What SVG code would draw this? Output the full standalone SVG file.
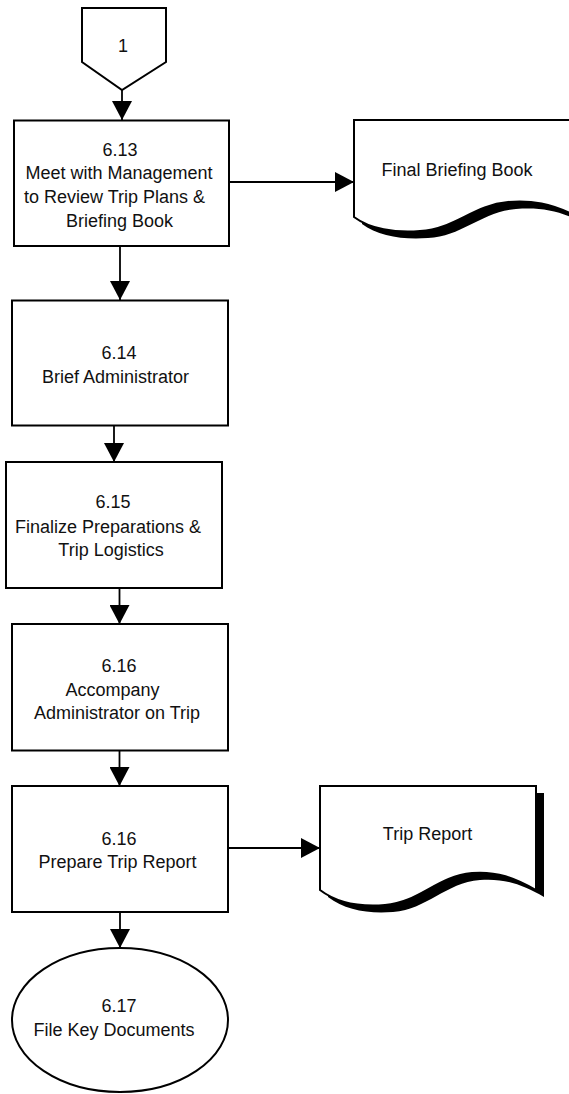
<svg xmlns="http://www.w3.org/2000/svg" width="569" height="1094" viewBox="0 0 569 1094">
<defs>
<style>
.shape{fill:#fff;stroke:#000;stroke-width:2}
.shadow{fill:#000;stroke:none}
.conn{fill:none;stroke:#000;stroke-width:1.8}
text{font-family:"Liberation Sans",Arial,sans-serif;font-size:18px;fill:#111;text-anchor:middle}
</style>
<marker id="arr" markerUnits="userSpaceOnUse" markerWidth="20" markerHeight="20" refX="19" refY="10" orient="auto">
<path d="M0,0 L19,10 L0,20 Z" fill="#000"/>
</marker>
</defs>
<rect width="569" height="1094" fill="#fff"/>
<g id="connectors">
<line class="conn" x1="122" y1="90" x2="122" y2="120" marker-end="url(#arr)"/>
<line class="conn" x1="120" y1="246" x2="120" y2="300" marker-end="url(#arr)"/>
<line class="conn" x1="114" y1="426" x2="114" y2="462" marker-end="url(#arr)"/>
<line class="conn" x1="119.5" y1="588" x2="119.5" y2="624" marker-end="url(#arr)"/>
<line class="conn" x1="119.5" y1="751" x2="119.5" y2="786" marker-end="url(#arr)"/>
<line class="conn" x1="120" y1="912" x2="120" y2="948" marker-end="url(#arr)"/>
<line class="conn" x1="229" y1="182" x2="354" y2="182" marker-end="url(#arr)"/>
<line class="conn" x1="228" y1="848" x2="320" y2="848" marker-end="url(#arr)"/>
</g>
<g id="offpage1">
<polygon class="shape" points="82,8 166,8 166,62 122,90 82,62"/>
<text x="123" y="52">1</text>
</g>
<g id="n613">
<rect class="shape" x="14" y="120.5" width="215" height="125.5"/>
<text x="120" y="156">6.13</text>
<text x="119" y="179">Meet with Management</text>
<text x="114.5" y="203">to Review Trip Plans &amp;</text>
<text x="119.5" y="227">Briefing Book</text>
</g>
<g id="doc1">
<path class="shadow" transform="translate(8,7)" d="M354,120 H572 V214 C551,204 533,200 508,202 C473,205 455,229 420,231 C395,233 370,229 354,217 Z"/>
<path class="shape" d="M354,120 H572 V214 C551,204 533,200 508,202 C473,205 455,229 420,231 C395,233 370,229 354,217 Z"/>
<text x="457" y="176">Final Briefing Book</text>
</g>
<g id="n614">
<rect class="shape" x="12" y="300.5" width="216" height="125"/>
<text x="119" y="359">6.14</text>
<text x="115.6" y="383">Brief Administrator</text>
</g>
<g id="n615">
<rect class="shape" x="6" y="462" width="216" height="126"/>
<text x="113" y="508">6.15</text>
<text x="108" y="533">Finalize Preparations &amp;</text>
<text x="111" y="556">Trip Logistics</text>
</g>
<g id="n616a">
<rect class="shape" x="12" y="624" width="216" height="126.5"/>
<text x="119" y="672">6.16</text>
<text x="112.5" y="696">Accompany</text>
<text x="117" y="719">Administrator on Trip</text>
</g>
<g id="n616b">
<rect class="shape" x="12" y="786" width="216" height="126"/>
<text x="119" y="845">6.16</text>
<text x="117.5" y="868">Prepare Trip Report</text>
</g>
<g id="doc2">
<path class="shadow" transform="translate(8,7)" d="M320,786 H536 V890 C515,878 497,871 472,873 C437,876 420,902 385,905 C360,907 337,903 320,890 Z"/>
<path class="shape" d="M320,786 H536 V890 C515,878 497,871 472,873 C437,876 420,902 385,905 C360,907 337,903 320,890 Z"/>
<text x="427.5" y="840">Trip Report</text>
</g>
<g id="n617">
<ellipse class="shape" cx="120" cy="1020" rx="108" ry="72"/>
<text x="119" y="1012">6.17</text>
<text x="114" y="1036">File Key Documents</text>
</g>
</svg>
